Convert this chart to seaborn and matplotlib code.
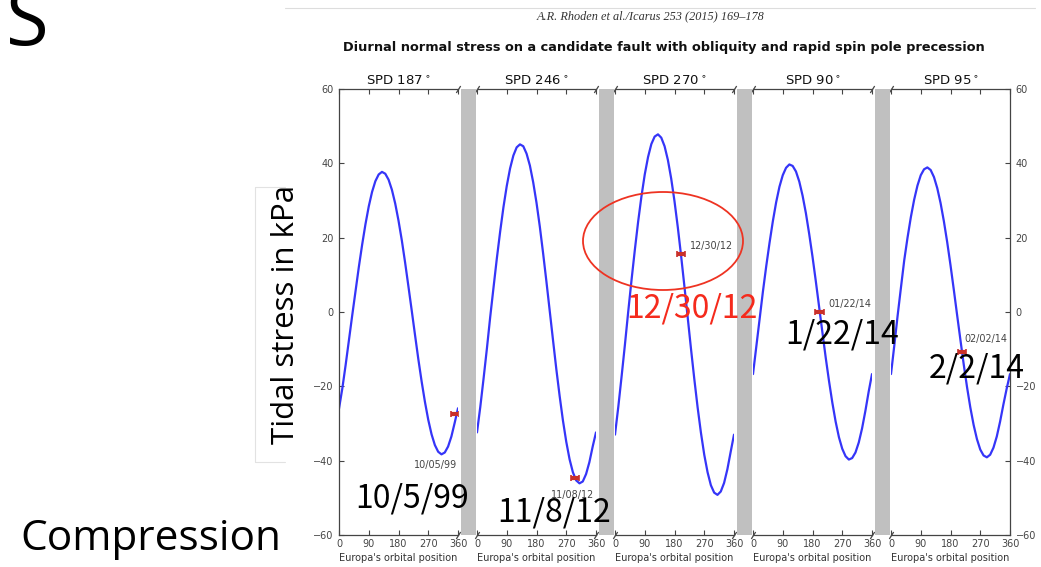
import matplotlib
matplotlib.use("Agg")
import matplotlib.pyplot as plt
import seaborn as sns
from matplotlib.patches import Rectangle, Ellipse
from matplotlib.lines import Line2D

# ---------------- data ----------------
orbital_position = [0, 10, 20, 30, 40, 50, 60, 70, 80, 90, 100, 110, 120, 130, 140, 150, 160, 170, 180,
                    190, 200, 210, 220, 230, 240, 250, 260, 270, 280, 290, 300, 310, 320, 330, 340, 350, 360]

stress_spd187 = [-26.0, -20.6, -14.3, -7.6, -0.9, 5.6, 12.1, 18.1, 23.6, 28.4, 32.3, 35.2, 37.0,
                 37.7, 37.2, 35.6, 32.9, 29.2, 24.6, 19.3, 13.3, 6.9, 0.4, -6.2, -12.7, -18.7,
                 -24.2, -29.0, -32.9, -35.8, -37.6, -38.3, -37.8, -36.2, -33.5, -29.8, -25.9]
stress_spd246 = [-32.4, -25.5, -17.8, -9.8, -1.3, 6.6, 14.4, 21.6, 28.2, 33.9, 38.6, 42.1, 44.3,
                 45.1, 44.6, 42.6, 39.4, 34.9, 29.4, 23.0, 15.8, 8.2, 0.3, -7.6, -15.4, -22.6,
                 -29.2, -34.9, -39.6, -43.1, -45.3, -46.1, -45.6, -43.6, -40.4, -36.2, -32.4]
stress_spd270 = [-33.0, -25.5, -17.3, -8.8, 0.1, 8.6, 16.7, 24.3, 31.1, 37.0, 41.7, 45.2, 47.2,
                 47.8, 46.9, 44.6, 40.9, 35.9, 29.8, 22.8, 15.1, 6.9, -1.5, -10.0, -18.1, -25.7,
                 -32.5, -38.4, -43.1, -46.6, -48.6, -49.2, -48.3, -46.0, -42.3, -37.6, -33.0]
stress_spd90 = [-16.7, -9.3, -1.9, 5.5, 12.3, 18.6, 24.4, 29.5, 33.7, 36.8, 38.8, 39.7, 39.3,
                37.8, 35.1, 31.3, 26.6, 21.0, 14.9, 8.3, 1.4, -5.5, -12.3, -18.6, -24.4, -29.5,
                -33.7, -36.8, -38.8, -39.7, -39.3, -37.8, -35.1, -31.3, -26.6, -21.4, -16.7]
stress_spd95 = [-16.7, -9.0, -1.0, 6.5, 13.9, 20.0, 25.5, 30.2, 34.0, 36.8, 38.4, 38.9, 38.2,
                36.3, 33.3, 29.3, 24.4, 18.8, 12.6, 6.0, -0.8, -7.5, -14.1, -20.2, -25.7, -30.4,
                -34.2, -37.0, -38.6, -39.1, -38.4, -36.5, -33.5, -29.5, -24.9, -20.6, -16.7]

spd_labels = ["SPD 187$^\\circ$", "SPD 246$^\\circ$", "SPD 270$^\\circ$", "SPD 90$^\\circ$", "SPD 95$^\\circ$"]
fault_dates = ["10/05/99", "11/08/12", "12/30/12", "01/22/14", "02/02/14"]
slide_dates = ["10/5/99", "11/8/12", "12/30/12", "1/22/14", "2/2/14"]
marker_position = [351, 296, 200, 201, 215]
marker_stress = [-27.4, -44.7, 15.5, 0.0, -10.8]
x_ticks = [0, 90, 180, 270, 360]
y_ticks = [-60, -40, -20, 0, 20, 40, 60]

series = [stress_spd187, stress_spd246, stress_spd270, stress_spd90, stress_spd95]

# ---------------- style ----------------
sns.set_theme(style="white")
plt.rcParams['font.family'] = ['DejaVu Sans']
plt.rcParams['axes.edgecolor'] = '#444444'

W, H = 1041, 567
fig = plt.figure(figsize=(W / 100, H / 100), dpi=100)
fig.patch.set_facecolor('white')


def fx(px):
    return px / W


def fy(py):
    return 1 - py / H


panel_left = [339, 477, 615, 753, 891]
panel_w = 119
ax_top, ax_bot = 89, 535

# date-label offsets (pixels) relative to the red marker, and alignment
label_offsets = [(2, -51, 'right'), (19, -17, 'right'), (9, 8, 'left'), (9, 8, 'left'), (2, 13, 'left')]

axes = []
for i, vals in enumerate(series):
    ax = fig.add_axes([fx(panel_left[i]), fy(ax_bot), panel_w / W, (ax_bot - ax_top) / H])
    axes.append(ax)
    sns.lineplot(x=orbital_position, y=vals, ax=ax, color='#3535f8', linewidth=1.6,
                 sort=False, errorbar=None)
    ax.errorbar(marker_position[i], marker_stress[i], xerr=13, fmt='none',
                ecolor='#c9302a', elinewidth=3, capsize=2, capthick=1.2, zorder=5)
    dx, dy, ha = label_offsets[i]
    ax.annotate(fault_dates[i], xy=(marker_position[i], marker_stress[i]),
                xytext=(dx, dy), textcoords='offset pixels', ha=ha, va='center',
                fontsize=6.9, color='#444444')
    ax.set_xlim(0, 360)
    ax.set_ylim(-60, 60)
    ax.set_xticks(x_ticks)
    ax.set_yticks(y_ticks)
    ax.set_xlabel("Europa's orbital position", fontsize=7, color='#333333', labelpad=3)
    ax.set_ylabel("")
    ax.set_title(spd_labels[i], fontsize=9.5, pad=3, color='#111111')
    ax.tick_params(axis='x', direction='in', length=3.5, width=0.8, colors='#444444',
                   labelsize=7, top=True, bottom=True, pad=3)
    ax.tick_params(axis='y', direction='in', length=3.5, width=0.8, colors='#444444',
                   labelsize=7, left=(i == 0), labelleft=(i == 0),
                   right=(i == 4), labelright=(i == 4), pad=4)
    for s in ['top', 'bottom', 'left', 'right']:
        ax.spines[s].set_linewidth(0.9)
        ax.spines[s].set_color('#444444')
    ax.spines['left'].set_visible(i == 0)
    ax.spines['right'].set_visible(i == 4)
    # broken-axis marks
    kw = dict(marker=[(-1, -1.6), (1, 1.6)], markersize=5, linestyle='none',
              color='#444444', mec='#444444', mew=0.9, clip_on=False, transform=ax.transAxes)
    if i < 4:
        ax.plot([1, 1], [0, 1], **kw)
    if i > 0:
        ax.plot([0, 0], [0, 1], **kw)

# gray separators between panels
for i in range(4):
    x0 = panel_left[i] + panel_w + 3
    x1 = panel_left[i + 1] - 1
    fig.patches.append(Rectangle((fx(x0), fy(ax_bot)), (x1 - x0) / W, (ax_bot - ax_top) / H,
                                 transform=fig.transFigure, facecolor='#c0c0c0',
                                 edgecolor='none', zorder=1))

# top hairline of embedded page
fig.add_artist(Line2D([fx(285), fx(1035)], [fy(8), fy(8)], transform=fig.transFigure,
                      color='#dddddd', lw=0.8))

fig.text(fx(651), fy(16), "A.R. Rhoden et al./Icarus 253 (2015) 169–178", ha='center', va='center',
         fontsize=8.8, style='italic', family='Liberation Serif', color='#333333')
fig.text(fx(664), fy(47), "Diurnal normal stress on a candidate fault with obliquity and rapid spin pole precession",
         ha='center', va='center', fontsize=9.3, weight='bold', color='#111111')

# slide overlays
fig.text(fx(6), fy(45), "S", fontsize=56, family='Open Sans', va='baseline', ha='left', color='black')
fig.text(fx(20), fy(550), "Compression", fontsize=30.5, family='Open Sans', va='baseline', ha='left',
         color='black')
fig.text(fx(286), fy(315), "Tidal stress in kPa", fontsize=22.5, family='Open Sans', rotation=90,
         ha='center', va='center', color='black')
for xa, xb, ya, yb in [(255, 285, 187, 187), (255, 285, 462, 462), (255, 255, 187, 462)]:
    fig.add_artist(Line2D([fx(xa), fx(xb)], [fy(ya), fy(yb)], transform=fig.transFigure,
                          color='#e2e2e2', lw=0.8))

slide_pos = [(412, 498), (554, 513), (692, 309), (842, 334), (977, 368)]
slide_col = ['black', 'black', '#f52a1c', 'black', 'black']
for txt, (px, py), c in zip(slide_dates, slide_pos, slide_col):
    fig.text(fx(px), fy(py), txt, fontsize=23, family=['Noto Sans CJK JP', 'DejaVu Sans'],
             ha='center', va='center', color=c, zorder=6)

fig.patches.append(Ellipse((fx(663), fy(241)), 160 / W, 98 / H, transform=fig.transFigure,
                           fill=False, edgecolor='#ee3322', lw=1.3, zorder=6))

fig.savefig("out.png", dpi=100)
